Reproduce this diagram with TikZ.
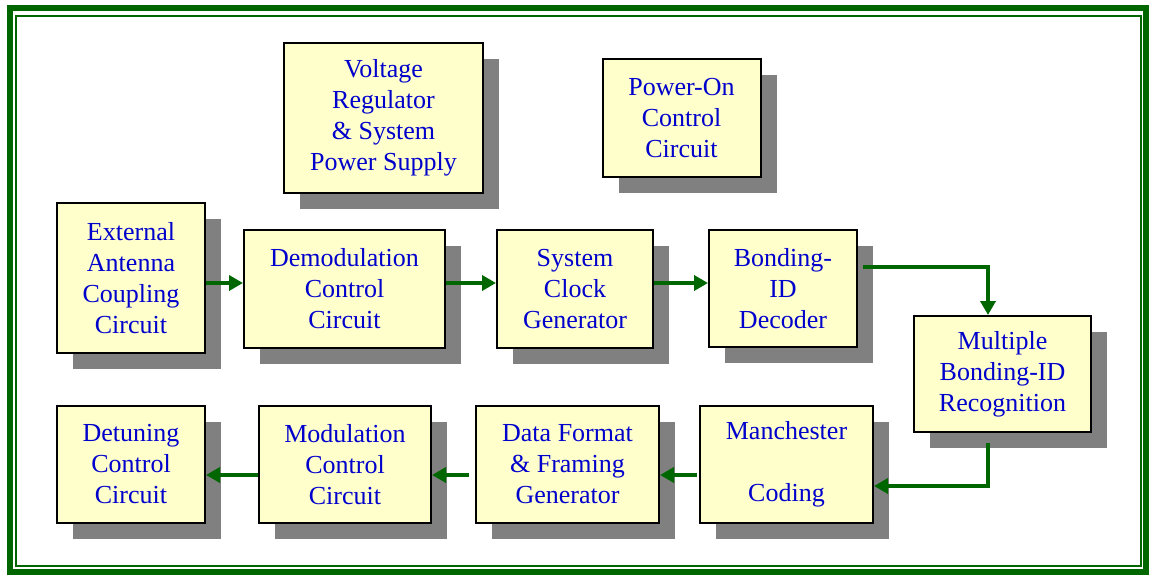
\documentclass[tikz,border=0pt]{standalone}
\usepackage{fontspec}
\setmainfont{Liberation Serif}
\newfontfamily\boxfont{Liberation Serif}
\usetikzlibrary{shadows,calc,arrows.meta}
\definecolor{fillyellow}{RGB}{255,255,204}
\definecolor{txtblue}{RGB}{0,0,204}
\definecolor{dkgreen}{RGB}{0,102,0}
\definecolor{shadowgray}{RGB}{128,128,128}
\tikzset{
  box/.style={draw=black, line width=2pt, fill=fillyellow, text=txtblue,
    align=center, inner sep=0pt, font=\boxfont\fontsize{26}{31}\selectfont,
    drop shadow={shadow xshift=16pt, shadow yshift=-16pt, opacity=1, fill=shadowgray}},
  conn/.style={draw=dkgreen, line width=4pt, -{Triangle[length=14pt,width=15pt]}},
  frameout/.style={draw=dkgreen, line width=6pt},
  framein/.style={draw=dkgreen, line width=2pt}
}
\begin{document}
\begin{tikzpicture}[x=1pt,y=-1pt]
\useasboundingbox (0,0) rectangle (1150,575);
\draw[frameout] (10,8) rectangle (1146,572);
\draw[framein] (16,16) rectangle (1141,566);

\node[box, minimum width=199pt, minimum height=150pt] (volt) at (383.5,118) {Voltage\\Regulator\\\& System\\Power Supply};
\node[box, minimum width=158pt, minimum height=117pt] (pwr) at (681.5,118) {Power-On\\Control\\Circuit};
\node[box, minimum width=148pt, minimum height=150pt] (ext) at (131,278) {External\\Antenna\\Coupling\\Circuit};
\node[box, minimum width=201pt, minimum height=118pt] (demod) at (344.5,289) {Demodulation\\Control\\Circuit};
\node[box, minimum width=156pt, minimum height=118pt] (clock) at (575,289) {System\\Clock\\Generator};
\node[box, minimum width=148pt, minimum height=117pt] (bond) at (783,288.5) {Bonding-\\ID\\Decoder};
\node[box, minimum width=177pt, minimum height=116pt] (multi) at (1002.5,374) {Multiple\\Bonding-ID\\Recognition};
\node[box, minimum width=173pt, minimum height=117pt] (manch) at (786.5,464.5) {Manchester\\[31pt]Coding};
\node[box, minimum width=183pt, minimum height=117pt] (data) at (567.5,464.5) {Data Format\\\& Framing\\Generator};
\node[box, minimum width=172pt, minimum height=117pt] (mod) at (345,464.5) {Modulation\\Control\\Circuit};
\node[box, minimum width=148pt, minimum height=117pt] (detune) at (131,464.5) {Detuning\\Control\\Circuit};

\draw[conn] ($(ext.east)+(0,5)$) -- ($(demod.west)+(0,-6)$);
\draw[conn] ($(demod.east)+(0,-6)$) -- ($(clock.west)+(0,-6)$);
\draw[conn] ($(clock.east)+(0,-6)$) -- ($(bond.west)+(0,-5.5)$);
\draw[conn] ($(bond.east)+(5,-21.5)$) -| ($(multi.north)+(-14.5,0)$);
\draw[conn] ($(multi.south)+(-14.5,10)$) |- ($(manch.east)+(0,21.5)$);
\draw[conn] ($(manch.west)+(-2,10.5)$) -- ($(data.east)+(0,10.5)$);
\draw[conn] ($(data.west)+(-6,10.5)$) -- ($(mod.east)+(0,10.5)$);
\draw[conn] ($(mod.west)+(0,10.5)$) -- ($(detune.east)+(0,10.5)$);
\end{tikzpicture}
\end{document}
